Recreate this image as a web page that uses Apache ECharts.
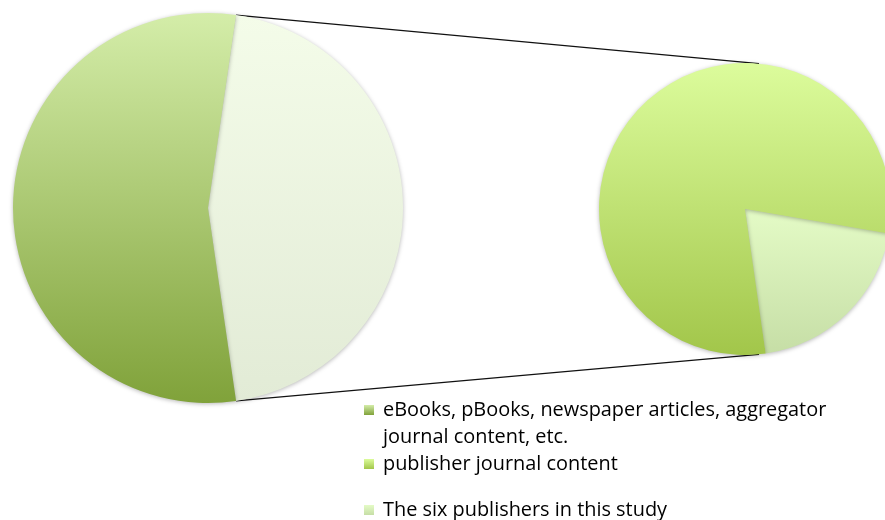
<!DOCTYPE html>
<html><head><meta charset="utf-8">
<script src="https://cdn.jsdelivr.net/npm/echarts@6/dist/echarts.min.js"></script>
<style>html,body{margin:0;padding:0;background:#fff}#c{width:885px;height:520px}</style>
</head><body><div id="c"></div>
<script>
// ---- data ----
const categories = [
  'eBooks, pBooks, newspaper articles, aggregator journal content, etc.',
  'publisher journal content',
  'The six publishers in this study'
];
const shares = [54.6, 36.3, 9.1];          // % of total
const otherName = 'Other';                 // left pie's aggregated slice (not in legend)
const legendLines = [
  ['eBooks, pBooks, newspaper articles, aggregator', 'journal content, etc.'],
  ['publisher journal content'],
  ['The six publishers in this study']
];

// ---- layout constants ----
const L = {cx: 208, cy: 208, r: 195};
const R = {cx: 745, cy: 209, r: 146};
const rightStart = -9.7;     // start angle of second pie (deg, ECharts convention)
const connectorTilt = 5.5;   // deg from vertical where connectors touch the second pie
const FONT = 'Open Sans';
const FS = 19.9;
const LH = 27;

// derived values
const otherVal = shares[1] + shares[2];
const total = shares[0] + otherVal;
const leftStart = otherVal / total * 180;   // 'Other' slice centred at 3 o'clock

function grad(top, bottom) {
  return {type: 'linear', x: 0, y: 0, x2: 0, y2: 1,
    colorStops: [{offset: 0, color: top}, {offset: 1, color: bottom}]};
}
const colEBooks = grad('#d4eda9', '#80a23a');
const colOther = grad('#f4fce9', '#e2ebd6');
const colPub = grad('#dcfc9c', '#a2c64a');
const colSix = grad('#e4fbc6', '#c6dea6');

const shadow = {shadowBlur: 4, shadowColor: 'rgba(0,0,0,0.28)', shadowOffsetX: 0, shadowOffsetY: 1};

function pt(c, deg) {
  const a = deg * Math.PI / 180;
  return [c.cx + c.r * Math.cos(a), c.cy - c.r * Math.sin(a)];
}
const lTop = pt(L, leftStart);
const lBot = pt(L, -leftStart);
const rTop = pt(R, 90 - connectorTilt);
const rBot = pt(R, -90 + connectorTilt);

function legendAt(i, iconCenterY) {
  const lines = legendLines[i];
  // pad with empty lines above so the first text line is level with the icon
  const pad = lines.length - 1;
  const all = new Array(pad).fill('').concat(lines);
  const n = all.length;
  return {
    show: true, left: 364, top: iconCenterY - n * LH / 2, padding: 0, orient: 'vertical',
    itemWidth: 10, itemHeight: 10, itemGap: 0, icon: 'rect',
    selectedMode: false,
    data: [categories[i]],
    formatter: () => all.map(s => s ? '{t|' + s + '}' : '{t|\u200b}').join('\n'),
    textStyle: {fontFamily: FONT, fontSize: FS, color: '#000', lineHeight: LH,
      rich: {t: {fontFamily: FONT, fontSize: FS, color: '#000', lineHeight: LH, padding: [0, 0, 0, 4]}}}
  };
}

const chart = echarts.init(document.getElementById('c'), null, {renderer: 'canvas'});
chart.setOption({
  animation: false,
  backgroundColor: '#fff',
  legend: [
    legendAt(0, 410),
    legendAt(1, 464),
    legendAt(2, 510)
  ],
  graphic: [
    {type: 'line', z: 1, shape: {x1: lTop[0], y1: lTop[1], x2: rTop[0], y2: rTop[1]},
      style: {stroke: '#111', lineWidth: 1.3}},
    {type: 'line', z: 1, shape: {x1: lBot[0], y1: lBot[1], x2: rBot[0], y2: rBot[1]},
      style: {stroke: '#111', lineWidth: 1.3}}
  ],
  series: [
    {
      type: 'pie', center: [L.cx, L.cy], radius: [0, L.r], startAngle: leftStart,
      clockwise: true, silent: true, label: {show: false}, labelLine: {show: false},
      itemStyle: Object.assign({borderWidth: 0}, shadow),
      data: [
        {name: otherName, value: otherVal, itemStyle: {color: colOther}},
        {name: categories[0], value: shares[0], itemStyle: {color: colEBooks}}
      ]
    },
    {
      type: 'pie', center: [R.cx, R.cy], radius: [0, R.r], startAngle: rightStart,
      clockwise: true, silent: true, label: {show: false}, labelLine: {show: false},
      itemStyle: Object.assign({borderWidth: 0}, shadow),
      data: [
        {name: categories[2], value: shares[2], itemStyle: {color: colSix}},
        {name: categories[1], value: shares[1], itemStyle: {color: colPub}}
      ]
    }
  ]
});
</script>
</body></html>
